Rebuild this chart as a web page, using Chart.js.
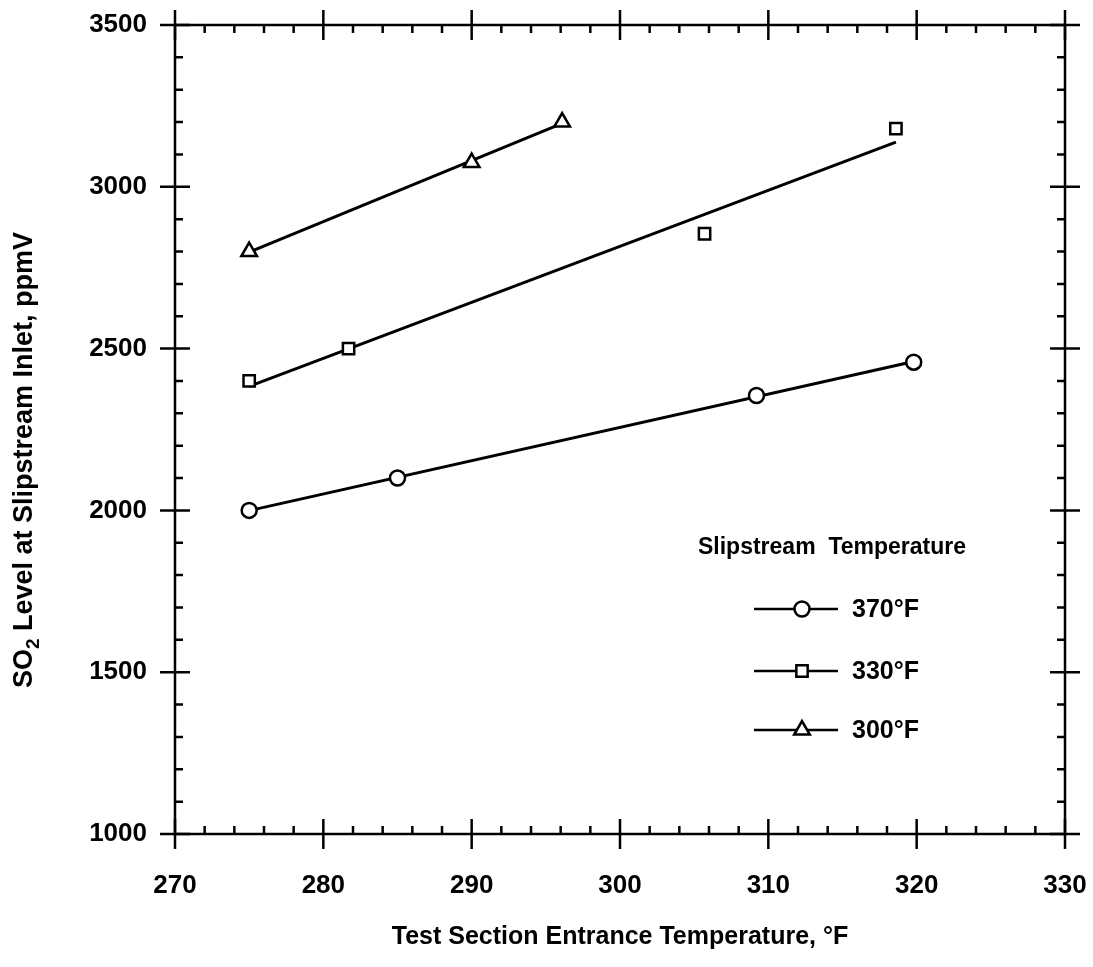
<!DOCTYPE html>
<html>
<head>
<meta charset="utf-8">
<script src="https://cdn.jsdelivr.net/npm/chart.js@4.4.0/dist/chart.umd.min.js"></script>
<style>
  body { margin: 0; background: #fff; }
  canvas { display: block; }
</style>
</head>
<body>
<canvas id="so2Chart" width="1093" height="967"></canvas>
<script>
const FONT = '"Liberation Sans", Arial, Helvetica, sans-serif';

// test section entrance temperature (°F) and SO2 at slipstream inlet (ppmV)
const temp370 = [275, 285, 309.2, 319.8];
const so2_370 = [2000, 2100, 2355, 2458];

const temp330 = [275, 281.7, 305.7, 318.6];
const so2_330 = [2400, 2500, 2855, 3180];

const temp300 = [275, 290, 296.1];
const so2_300 = [2800, 3075, 3200];

const seriesLabels = ['370°F', '330°F', '300°F'];
const pointStyles = ['circle', 'rect', 'triangle'];
const pointSizes = [7.5, 8, 9];

const xTicks = [270, 280, 290, 300, 310, 320, 330];
const yTicks = [1000, 1500, 2000, 2500, 3000, 3500];
const xMinorStep = 2;
const yMinorStep = 100;

// least squares line through a series, drawn over the range of its points
function fitLine(xs, ys) {
  const n = xs.length;
  const mx = xs.reduce((a, b) => a + b, 0) / n;
  const my = ys.reduce((a, b) => a + b, 0) / n;
  let sxy = 0, sxx = 0;
  for (let i = 0; i < n; i++) {
    sxy += (xs[i] - mx) * (ys[i] - my);
    sxx += (xs[i] - mx) * (xs[i] - mx);
  }
  const slope = sxy / sxx;
  const b = my - slope * mx;
  const x0 = Math.min(...xs), x1 = Math.max(...xs);
  return [{ x: x0, y: b + slope * x0 }, { x: x1, y: b + slope * x1 }];
}

const series = [[temp370, so2_370], [temp330, so2_330], [temp300, so2_300]];
const datasets = [];
series.forEach(([xs, ys], i) => {
  datasets.push({
    label: seriesLabels[i] + ' fit',
    data: fitLine(xs, ys),
    showLine: true,
    borderColor: '#000',
    borderWidth: 3,
    pointRadius: 0,
    order: 2
  });
  datasets.push({
    label: seriesLabels[i],
    data: xs.map((x, k) => ({ x: x, y: ys[k] })),
    showLine: false,
    pointStyle: pointStyles[i],
    pointRadius: pointSizes[i],
    pointBorderWidth: 2.5,
    pointBorderColor: '#000',
    pointBackgroundColor: '#fff',
    order: 1
  });
});

// frame with inward minor ticks and crossing major ticks, plus the y title
const framePlugin = {
  id: 'frame',
  afterDraw(chart) {
    const { ctx, chartArea: { left, right, top, bottom }, scales: { x, y } } = chart;
    ctx.save();
    ctx.strokeStyle = '#000';
    ctx.lineWidth = 2.5;
    ctx.strokeRect(left, top, right - left, bottom - top);
    ctx.beginPath();
    for (let v = xTicks[0]; v <= xTicks[xTicks.length - 1]; v += xMinorStep) {
      const px = x.getPixelForValue(v);
      const major = xTicks.includes(v);
      const out = major ? 15 : 0, inn = major ? 15 : 8;
      ctx.moveTo(px, bottom + out); ctx.lineTo(px, bottom - inn);
      ctx.moveTo(px, top - out); ctx.lineTo(px, top + inn);
    }
    for (let v = yTicks[0]; v <= yTicks[yTicks.length - 1]; v += yMinorStep) {
      const py = y.getPixelForValue(v);
      const major = yTicks.includes(v);
      const out = major ? 15 : 0, inn = major ? 15 : 8;
      ctx.moveTo(left - out, py); ctx.lineTo(left + inn, py);
      ctx.moveTo(right + out, py); ctx.lineTo(right - inn, py);
    }
    ctx.stroke();

    // y axis title with subscript
    ctx.translate(32, 460);
    ctx.rotate(-Math.PI / 2);
    ctx.fillStyle = '#000';
    ctx.textBaseline = 'alphabetic';
    const big = 'bold 27px ' + FONT, small = 'bold 19px ' + FONT;
    const parts = [['SO', big, 0], ['2', small, 7], [' Level at Slipstream Inlet, ppmV', big, 0]];
    let total = 0;
    parts.forEach(([t, f]) => { ctx.font = f; total += ctx.measureText(t).width; });
    let cx = -total / 2;
    parts.forEach(([t, f, dy]) => {
      ctx.font = f;
      ctx.fillText(t, cx, dy);
      cx += ctx.measureText(t).width;
    });
    ctx.restore();
  }
};

// legend inside the plot area
const legendPlugin = {
  id: 'slipLegend',
  afterDraw(chart) {
    const { ctx } = chart;
    ctx.save();
    ctx.fillStyle = '#000';
    ctx.strokeStyle = '#000';
    ctx.textBaseline = 'middle';
    ctx.font = 'bold 23px ' + FONT;
    ctx.fillText('Slipstream  Temperature', 698, 548);
    const rows = [609, 671, 730];
    ctx.font = 'bold 25px ' + FONT;
    rows.forEach((ry, i) => {
      ctx.lineWidth = 2.5;
      ctx.beginPath();
      ctx.moveTo(754, ry); ctx.lineTo(838, ry);
      ctx.stroke();
      const r = pointSizes[i], mx = 802;
      ctx.beginPath();
      if (pointStyles[i] === 'circle') {
        ctx.arc(mx, ry, r, 0, Math.PI * 2);
      } else if (pointStyles[i] === 'rect') {
        const s = r * Math.SQRT1_2;
        ctx.rect(mx - s, ry - s, 2 * s, 2 * s);
      } else {
        ctx.moveTo(mx, ry - r);
        ctx.lineTo(mx + r * Math.sin(2 * Math.PI / 3), ry + r / 2);
        ctx.lineTo(mx - r * Math.sin(2 * Math.PI / 3), ry + r / 2);
        ctx.closePath();
      }
      ctx.fillStyle = '#fff';
      ctx.fill();
      ctx.stroke();
      ctx.fillStyle = '#000';
      ctx.fillText(seriesLabels[i], 852, ry + 1);
    });
    ctx.restore();
  }
};

const ctx = document.getElementById('so2Chart').getContext('2d');
const so2Chart = new Chart(ctx, {
  type: 'scatter',
  data: { datasets: datasets },
  options: {
    responsive: false,
    animation: false,
    layout: { padding: { top: 25, right: 28, left: 0, bottom: 0 } },
    plugins: {
      legend: { display: false },
      tooltip: { enabled: false }
    },
    scales: {
      x: {
        type: 'linear',
        min: 270,
        max: 330,
        grid: { display: false },
        border: { display: false },
        afterBuildTicks: s => { s.ticks = xTicks.map(v => ({ value: v })); },
        afterFit: s => { s.height = 133; s.paddingLeft = 0; s.paddingRight = 0; },
        ticks: {
          color: '#000',
          padding: 28,
          callback: v => String(v),
          font: { family: FONT, size: 26, weight: 'bold' }
        },
        title: {
          display: true,
          text: 'Test Section Entrance Temperature, °F',
          color: '#000',
          padding: { top: 0, bottom: 15 },
          font: { family: FONT, size: 25, weight: 'bold' }
        }
      },
      y: {
        type: 'linear',
        min: 1000,
        max: 3500,
        grid: { display: false },
        border: { display: false },
        afterBuildTicks: s => { s.ticks = yTicks.map(v => ({ value: v })); },
        afterFit: s => { s.width = 175; s.paddingTop = 0; s.paddingBottom = 0; },
        ticks: {
          color: '#000',
          padding: 20,
          callback: v => String(v),
          font: { family: FONT, size: 26, weight: 'bold' }
        }
      }
    }
  },
  plugins: [framePlugin, legendPlugin]
});
</script>
</body>
</html>
